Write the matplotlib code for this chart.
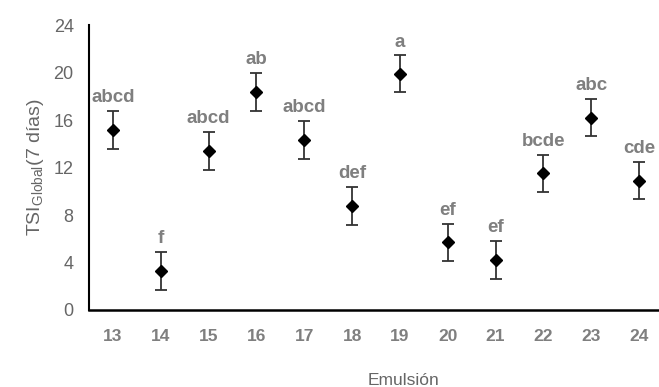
import matplotlib
matplotlib.use('Agg')
import matplotlib.pyplot as plt

plt.rcParams['font.family'] = ['Liberation Sans', 'DejaVu Sans']
plt.rcParams['mathtext.fontset'] = 'custom'
plt.rcParams['mathtext.rm'] = 'Liberation Sans'

emulsion = [13, 14, 15, 16, 17, 18, 19, 20, 21, 22, 23, 24]
tsi = [15.2, 3.3, 13.4, 18.4, 14.3, 8.8, 19.9, 5.7, 4.2, 11.5, 16.2, 10.9]
err = [1.6, 1.6, 1.6, 1.6, 1.6, 1.6, 1.55, 1.55, 1.6, 1.55, 1.55, 1.55]
letters = ['abcd', 'f', 'abcd', 'ab', 'abcd', 'def', 'a', 'ef', 'ef', 'bcde', 'abc', 'cde']
gray = '#7f7f7f'

fig = plt.figure(figsize=(6.59, 3.87), dpi=100)
ax = fig.add_axes([89/659, 1-310/387, 574/659, 285/387])

ax.errorbar(emulsion, tsi, yerr=err, fmt='D', color='black', ms=6,
            ecolor='#333333', elinewidth=1.3, capsize=4, capthick=1.3)
for x, y, e, s in zip(emulsion, tsi, err, letters):
    ax.text(x, y + e + 0.4, s, ha='center', va='bottom', color=gray,
            fontsize=13.5, fontweight='bold')

ax.set_xlim(12.5, 24.5)
ax.set_ylim(0, 24)
ax.set_xticks(emulsion)
ax.set_yticks([0, 4, 8, 12, 16, 20, 24])
ax.spines['top'].set_visible(False)
ax.spines['right'].set_visible(False)
ax.spines['left'].set_linewidth(1.5)
ax.spines['bottom'].set_linewidth(1.8)
ax.tick_params(axis='x', length=0, labelsize=12.5, colors=gray, pad=14)
ax.tick_params(axis='y', length=0, labelsize=13, colors='#666666', pad=11)
for lab in ax.get_xticklabels():
    lab.set_fontweight('bold')

ax.set_ylabel(r'TSI$_{\mathrm{Global}}$(7 días)', color='#666666', fontsize=14)
ax.yaxis.set_label_coords(-0.075, 0.5)
ax.set_xlabel('Emulsión', color='#666666', fontsize=12.5)
ax.xaxis.set_label_coords(0.548, -0.22)

fig.savefig('out.png', dpi=100)
